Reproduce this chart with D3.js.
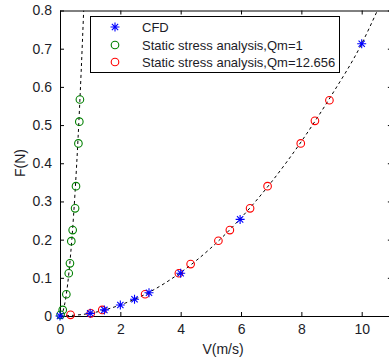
<!DOCTYPE html>
<html>
<head>
<meta charset="utf-8">
<script src="https://cdn.jsdelivr.net/npm/d3@7"></script>
<style>
  body { margin: 0; background: #fff; }
  svg { display: block; font-family: "Liberation Sans", Arial, sans-serif; }
</style>
</head>
<body>
<div id="chart"></div>
<script>
// ---------------------------------------------
// data

var cfdV = [0, 1.0, 1.47, 2.0, 2.47, 2.95, 4.0, 5.97, 10.0];
var cfdF = [0, 0.007, 0.016, 0.029, 0.044, 0.061, 0.112, 0.253, 0.713];

var qm1V = [0.02, 0.09, 0.21, 0.29, 0.33, 0.375, 0.42, 0.50, 0.53, 0.61, 0.64, 0.66];
var qm1F = [0.003, 0.016, 0.057, 0.112, 0.138, 0.196, 0.225, 0.282, 0.340, 0.452, 0.509, 0.567];

var qm12V = [0.35, 1.02, 1.40, 2.82, 3.94, 4.33, 5.25, 5.63, 6.30, 6.88, 7.98, 8.45, 8.93];
var qm12F = [0.003, 0.007, 0.016, 0.057, 0.112, 0.136, 0.197, 0.225, 0.282, 0.340, 0.452, 0.511, 0.565];

// dashed trend lines
var fitAV = [0, 0.1, 0.2, 0.3, 0.4, 0.5, 0.6, 0.7, 0.785];
var fitAF = [0, 0.013, 0.052, 0.117, 0.208, 0.325, 0.468, 0.637, 0.8];
var fitBV = [0, 1, 2, 3, 4, 5, 6, 7, 8, 9, 10, 10.52];
var fitBF = [0, 0.007, 0.029, 0.064, 0.114, 0.178, 0.257, 0.35, 0.457, 0.578, 0.713, 0.8];

var xTicks = [0, 2, 4, 6, 8, 10];
var yTicks = [0, 0.1, 0.2, 0.3, 0.4, 0.5, 0.6, 0.7, 0.8];

var legendLabels = ["CFD", "Static stress analysis,Qm=1", "Static stress analysis,Qm=12.656"];

function zip(a, b) { return a.map(function(v, i) { return [v, b[i]]; }); }

// ---------------------------------------------
// chart

var width = 389, height = 361;
var plotLeft = 60, plotTop = 10.5, plotBottom = 316;

var x = d3.scaleLinear().domain([0, 11]).range([plotLeft, plotLeft + 11 * 30.17]);
var y = d3.scaleLinear().domain([0, 0.8]).range([plotBottom, plotTop]);

var svg = d3.select("#chart").append("svg")
    .attr("width", width)
    .attr("height", height);

svg.append("rect").attr("width", width).attr("height", height).attr("fill", "#fff");

svg.append("clipPath").attr("id", "clip")
  .append("rect")
    .attr("x", x(0)).attr("y", y(0.8))
    .attr("width", x(11) - x(0)).attr("height", y(0) - y(0.8));

// axes, MATLAB style: ticks inward on all four sides
var tickLen = 4;
var axB = svg.append("g").attr("transform", "translate(0," + plotBottom + ")")
    .call(d3.axisBottom(x).tickValues(xTicks).tickSizeInner(-tickLen).tickSizeOuter(0).tickPadding(8));
var axT = svg.append("g").attr("transform", "translate(0," + plotTop + ")")
    .call(d3.axisTop(x).tickValues(xTicks).tickSizeInner(-tickLen).tickSizeOuter(0).tickFormat(""));
var axL = svg.append("g").attr("transform", "translate(" + plotLeft + ",0)")
    .call(d3.axisLeft(y).tickValues(yTicks).tickSizeInner(-tickLen).tickSizeOuter(0).tickPadding(8)
      .tickFormat(function(d) { return d === 0 ? "0" : d3.format(".1f")(d); }));
var axR = svg.append("g").attr("transform", "translate(" + x(11) + ",0)")
    .call(d3.axisRight(y).tickValues(yTicks).tickSizeInner(-tickLen).tickSizeOuter(0).tickFormat(""));

[axB, axT, axL, axR].forEach(function(a) {
  a.selectAll("path.domain").attr("stroke", "#000").attr("stroke-width", 1);
  a.selectAll(".tick line").attr("stroke", "#000");
  a.selectAll("text").attr("font-size", 14).attr("fill", "#1c1c28")
    .attr("font-family", "'Liberation Sans', Arial, sans-serif");
});

// axis titles
svg.append("text")
    .attr("x", 223).attr("y", 354)
    .attr("text-anchor", "middle").attr("font-size", 14).attr("fill", "#1c1c28")
    .text("V(m/s)");
svg.append("text")
    .attr("transform", "translate(25,163) rotate(-90)")
    .attr("text-anchor", "middle").attr("font-size", 14).attr("fill", "#1c1c28")
    .text("F(N)");

// plot content
var plot = svg.append("g").attr("clip-path", "url(#clip)");

var line = d3.line()
    .x(function(d) { return x(d[0]); })
    .y(function(d) { return y(d[1]); })
    .curve(d3.curveMonotoneX);

[zip(fitAV, fitAF), zip(fitBV, fitBF)].forEach(function(pts) {
  plot.append("path")
      .datum(pts)
      .attr("d", line)
      .attr("fill", "none")
      .attr("stroke", "#000")
      .attr("stroke-width", 1)
      .attr("stroke-dasharray", "3,3");
});

function circles(g, pts, color) {
  g.selectAll(null)
    .data(pts)
    .enter()
    .append("circle")
      .attr("cx", function(d) { return x(d[0]); })
      .attr("cy", function(d) { return y(d[1]); })
      .attr("r", 3.8)
      .attr("fill", "none")
      .attr("stroke", color)
      .attr("stroke-width", 1.1);
}

function starPath(cx, cy, s) {
  var d = s * 0.7;
  return "M" + (cx - s) + "," + cy + "H" + (cx + s) +
         "M" + cx + "," + (cy - s) + "V" + (cy + s) +
         "M" + (cx - d) + "," + (cy - d) + "L" + (cx + d) + "," + (cy + d) +
         "M" + (cx - d) + "," + (cy + d) + "L" + (cx + d) + "," + (cy - d);
}

function stars(g, pts, color) {
  g.selectAll(null)
    .data(pts)
    .enter()
    .append("path")
      .attr("d", function(d) { return starPath(x(d[0]), y(d[1]), 4.5); })
      .attr("fill", "none")
      .attr("stroke", color)
      .attr("stroke-width", 1.1);
}

var marks = svg.append("g");
circles(marks, zip(qm1V, qm1F), "#008000");
circles(marks, zip(qm12V, qm12F), "#ff0000");
stars(marks, zip(cfdV, cfdF), "#0000ff");

// legend
var lg = svg.append("g");
lg.append("rect")
    .attr("x", 90.5).attr("y", 16.5)
    .attr("width", 249).attr("height", 56)
    .attr("fill", "#fff").attr("stroke", "#000").attr("stroke-width", 1);

var rowY = [27, 45, 62];
var lgColors = ["#0000ff", "#008000", "#ff0000"];
legendLabels.forEach(function(t, i) {
  if (i === 0) {
    lg.append("path").attr("d", starPath(115, rowY[i], 4.5))
      .attr("fill", "none").attr("stroke", lgColors[i]).attr("stroke-width", 1.1);
  } else {
    lg.append("circle").attr("cx", 115).attr("cy", rowY[i]).attr("r", 3.8)
      .attr("fill", "none").attr("stroke", lgColors[i]).attr("stroke-width", 1.1);
  }
  lg.append("text")
      .attr("x", 142).attr("y", rowY[i] + 4.6)
      .attr("font-size", 13).attr("fill", "#1c1c28")
      .text(t);
});
</script>
</body>
</html>
